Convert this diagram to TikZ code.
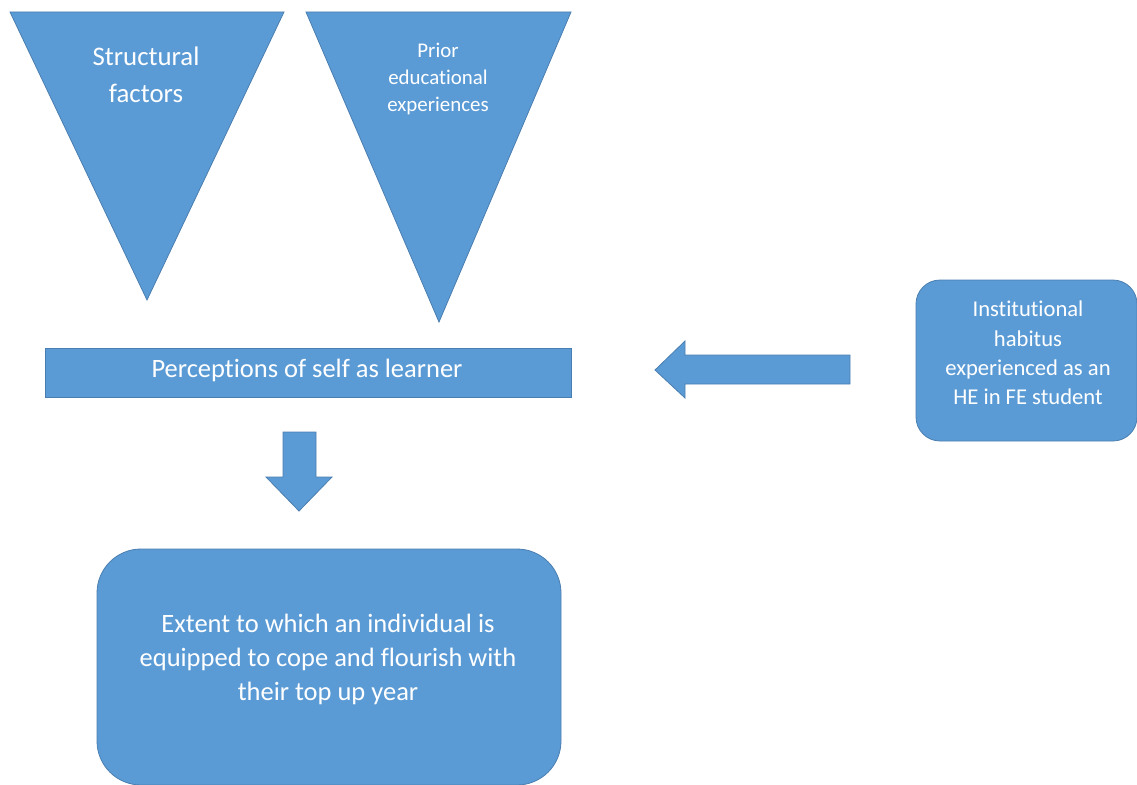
\documentclass[tikz,border=0pt]{standalone}
\usepackage{fontspec}
\setmainfont[Ligatures=NoCommon]{Carlito}
\definecolor{fillb}{HTML}{5B9BD5}
\definecolor{edgeb}{HTML}{4A7EB0}
\begin{document}
\begin{tikzpicture}[x=1pt,y=-1pt,
  shp/.style={fill=fillb,draw=edgeb,line width=0.8pt},
  lbl/.style={text=white,align=center,inner sep=0pt}]
\useasboundingbox (0,0) rectangle (1137,784);
% triangles
\draw[shp] (10,12) -- (284,12) -- (147,300) -- cycle;
\node[lbl,font=\fontsize{26.8}{37}\selectfont] (sf) at (146,75) {Structural\\factors};
\draw[shp] (306,12) -- (571,12) -- (439,322) -- cycle;
\node[lbl,font=\fontsize{20.9}{27}\selectfont] (pe) at (438,79) {Prior\\educational\\experiences};
% perceptions
\node[shp,minimum width=526pt,minimum height=49pt,inner sep=0pt] (per) at (308,372.5) {};
\node[lbl,font=\fontsize{26.5}{28}\selectfont] at (307,370) {Perceptions of self as learner};
% left arrow
\draw[shp] (655,370) -- (685,341) -- (685,355) -- (850,355) -- (850,384) -- (685,384) -- (685,398) -- cycle;
% institutional
\node[shp,rounded corners=24pt,minimum width=221pt,minimum height=161pt,inner sep=0pt] (inst) at (1026.5,360.5) {};
\node[lbl,font=\fontsize{22.6}{29.3}\selectfont] at (1028,353) {Institutional\\habitus\\experienced as an\\HE in FE student};
% down arrow
\draw[shp] (283,432) -- (316,432) -- (316,477) -- (332,477) -- (299,511) -- (266,477) -- (283,477) -- cycle;
% bottom box
\node[shp,rounded corners=44pt,minimum width=464pt,minimum height=236pt,inner sep=0pt] (ext) at (329,667) {};
\node[lbl,font=\fontsize{26.5}{34}\selectfont] at (328,659) {Extent to which an individual is\\equipped to cope and flourish with\\their top up year};
\end{tikzpicture}
\end{document}
